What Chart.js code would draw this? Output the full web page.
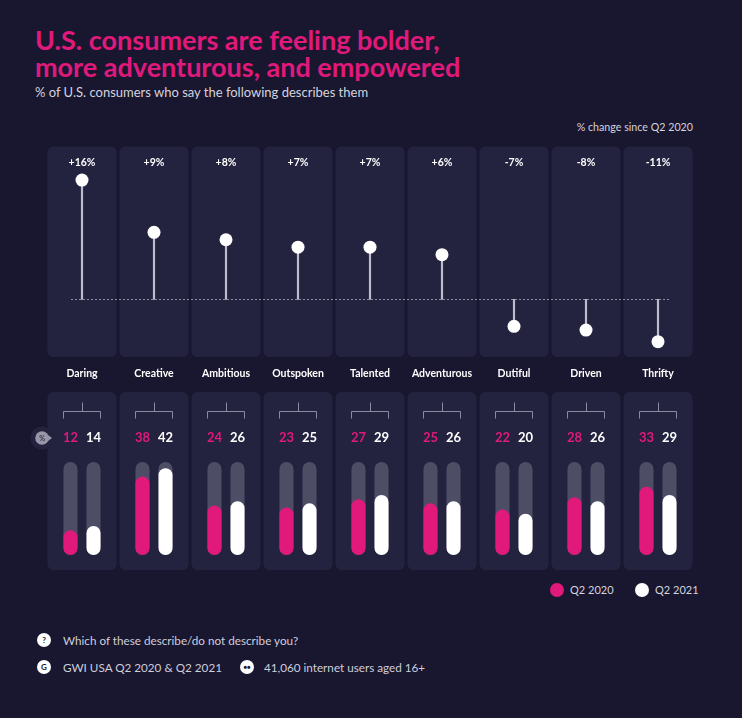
<!DOCTYPE html>
<html>
<head>
<meta charset="utf-8">
<script src="https://cdn.jsdelivr.net/npm/chart.js@4.4.0/dist/chart.umd.min.js"></script>
<style>
html, body { margin: 0; padding: 0; }
body {
    width: 742px; height: 718px; position: relative; overflow: hidden;
    background: #19162f; color: #fff;
    font-family: Lato, 'Noto Sans', sans-serif;
}
.abs { position: absolute; white-space: nowrap; }
#title { left: 35px; top: 26px; font-size: 27px; font-weight: 700; line-height: 27px; color: #e0197b; }
#subtitle { left: 35px; top: 85px; font-size: 13px; line-height: 14px; color: #d4d3de; }
#changeNote { right: 49px; top: 121px; font-size: 10.7px; line-height: 12px; color: #d4d3de; }
#topWrap { left: 0; top: 140px; width: 742px; height: 245px; }
#bottomWrap { left: 0; top: 385px; width: 742px; height: 195px; }
.dot { width: 14px; height: 14px; border-radius: 50%; }
.legendText { font-size: 11px; line-height: 14px; color: #d4d3de; }
.icon {
    width: 14px; height: 14px; border-radius: 50%; background: #fff; color: #19162f;
    font-size: 8px; font-weight: 700; line-height: 14px; text-align: center;
}
.foot { font-size: 11.7px; line-height: 14px; color: #cfcedb; }
</style>
</head>
<body>
<div id="title" class="abs">U.S. consumers are feeling bolder,<br>more adventurous, and empowered</div>
<div id="subtitle" class="abs">% of U.S. consumers who say the following describes them</div>
<div id="changeNote" class="abs">% change since Q2 2020</div>

<div id="topWrap" class="abs"><canvas id="lollipopChart"></canvas></div>
<div id="bottomWrap" class="abs"><canvas id="barChart"></canvas></div>

<div class="abs dot" style="left:550px; top:583px; background:#e0197b;"></div>
<div class="abs legendText" style="left:570px; top:583px;">Q2 2020</div>
<div class="abs dot" style="left:635px; top:583px; background:#fff;"></div>
<div class="abs legendText" style="left:655px; top:583px;">Q2 2021</div>

<div class="abs icon" style="left:37px; top:633px;">?</div>
<div class="abs foot" style="left:63px; top:633px;">Which of these describe/do not describe you?</div>
<div class="abs icon" style="left:37px; top:660px;">G</div>
<div class="abs foot" style="left:63px; top:660px;">GWI USA Q2 2020 &amp; Q2 2021</div>
<div class="abs icon" style="left:240px; top:660px; font-size:6px;">&#9679;&#9679;</div>
<div class="abs foot" style="left:264px; top:660px;">41,060 internet users aged 16+</div>

<script>
// Data
const categories = ['Daring', 'Creative', 'Ambitious', 'Outspoken', 'Talented', 'Adventurous', 'Dutiful', 'Driven', 'Thrifty'];
const changePct = [16, 9, 8, 7, 7, 6, -7, -8, -11];
const q2020 = [12, 38, 24, 23, 27, 25, 22, 28, 33];
const q2021 = [14, 42, 26, 25, 29, 26, 20, 26, 29];
const seriesNames = ['Q2 2020', 'Q2 2021'];
const trackMax = 45;

const PINK = '#e0197b';
const PANEL = '#24233f';
const TRACK = '#4e4d66';
const STEM = '#bdbccb';

Chart.defaults.font.family = "Lato, 'Noto Sans', sans-serif";
Chart.defaults.animation = false;

// the plot area above and below the zero line use their own scale
const upPx = 154, downPx = 58;
const posMax = 20.5, negMin = -15;

const posValues = changePct.map(v => v > 0 ? v : null);
const negValues = changePct.map(v => v < 0 ? v : null);

function fillRound(ctx, x, y, w, h, r, color) {
    ctx.beginPath();
    ctx.roundRect(x, y, w, h, r);
    ctx.fillStyle = color;
    ctx.fill();
}

const topPanels = {
    id: 'topPanels',
    beforeDatasetsDraw(chart) {
        const { ctx, chartArea, scales } = chart;
        ctx.save();
        categories.forEach((c, i) => {
            const cx = scales.x.getPixelForValue(i);
            fillRound(ctx, cx - 34.5, chartArea.top, 69, chartArea.bottom - chartArea.top, 6, PANEL);
        });
        const y0 = Math.round(scales.yPos.getPixelForValue(0)) + 0.5;
        ctx.strokeStyle = '#8d8ca2';
        ctx.lineWidth = 1;
        ctx.setLineDash([2, 2]);
        ctx.beginPath();
        ctx.moveTo(scales.x.getPixelForValue(0) - 11, y0);
        ctx.lineTo(scales.x.getPixelForValue(categories.length - 1) + 12, y0);
        ctx.stroke();
        ctx.restore();
    },
    afterDraw(chart) {
        const { ctx, chartArea, scales } = chart;
        ctx.save();
        ctx.textAlign = 'center';
        ctx.textBaseline = 'middle';
        ctx.fillStyle = '#ffffff';
        ctx.font = "bold 10.5px Lato, 'Noto Sans', sans-serif";
        categories.forEach((c, i) => {
            const cx = scales.x.getPixelForValue(i);
            const v = changePct[i];
            ctx.fillText((v > 0 ? '+' : '') + v + '%', cx, chartArea.top + 16);
            ctx.fillText(c, cx, chartArea.bottom + 17);
        });
        ctx.restore();
    }
};

const lollipopChart = new Chart(document.getElementById('lollipopChart'), {
    data: {
        labels: categories,
        datasets: [
            { type: 'line', data: posValues, yAxisID: 'yPos', showLine: false, pointRadius: 6.5, pointHoverRadius: 6.5, pointBackgroundColor: '#ffffff', pointBorderWidth: 0, order: 0 },
            { type: 'line', data: negValues, yAxisID: 'yNeg', showLine: false, pointRadius: 6.5, pointHoverRadius: 6.5, pointBackgroundColor: '#ffffff', pointBorderWidth: 0, order: 0 },
            { type: 'bar', data: posValues, yAxisID: 'yPos', grouped: false, barThickness: 1.5, backgroundColor: STEM, order: 1 },
            { type: 'bar', data: negValues, yAxisID: 'yNeg', grouped: false, barThickness: 1.5, backgroundColor: STEM, order: 1 }
        ]
    },
    options: {
        responsive: true,
        maintainAspectRatio: false,
        events: [],
        layout: { padding: { top: 5, bottom: 28, left: 46, right: 48 } },
        plugins: { legend: { display: false }, tooltip: { enabled: false } },
        scales: {
            x: { type: 'category', display: false, offset: true },
            yPos: { type: 'linear', display: false, min: -posMax * downPx / upPx, max: posMax },
            yNeg: { type: 'linear', display: false, min: negMin, max: -negMin * upPx / downPx }
        }
    },
    plugins: [topPanels]
});

const bottomPanels = {
    id: 'bottomPanels',
    beforeDatasetsDraw(chart) {
        const { ctx, chartArea, scales } = chart;
        ctx.save();
        categories.forEach((c, i) => {
            const cx = scales.x.getPixelForValue(i);
            fillRound(ctx, cx - 34.5, chartArea.top - 70, 69, chartArea.bottom - chartArea.top + 85, 6, PANEL);
        });
        ctx.restore();
    },
    afterDraw(chart) {
        const { ctx, chartArea } = chart;
        const m0 = chart.getDatasetMeta(0);
        const m1 = chart.getDatasetMeta(1);
        const labelY = chartArea.top - 24;
        ctx.save();
        ctx.strokeStyle = '#8a89a0';
        ctx.lineWidth = 1;
        ctx.textAlign = 'center';
        ctx.textBaseline = 'middle';
        ctx.font = "bold 13px Lato, 'Noto Sans', sans-serif";
        categories.forEach((c, i) => {
            const xa = m0.data[i].x, xb = m1.data[i].x;
            const left = Math.round(xa - 7) + 0.5, right = Math.round(xb + 7) - 0.5;
            const mid = Math.round((xa + xb) / 2) + 0.5;
            const hy = chartArea.top - 51 + 0.5;
            ctx.beginPath();
            ctx.moveTo(left, hy + 7);
            ctx.lineTo(left, hy);
            ctx.lineTo(right, hy);
            ctx.lineTo(right, hy + 7);
            ctx.moveTo(mid, hy);
            ctx.lineTo(mid, hy - 9);
            ctx.stroke();
            ctx.fillStyle = PINK;
            ctx.fillText(String(q2020[i]), xa, labelY);
            ctx.fillStyle = '#ffffff';
            ctx.fillText(String(q2021[i]), xb, labelY);
        });
        // "%" badge left of the first panel
        ctx.fillStyle = '#24223d';
        ctx.beginPath();
        ctx.arc(42, labelY, 11.5, 0, Math.PI * 2);
        ctx.fill();
        ctx.fillStyle = '#9897a9';
        ctx.beginPath();
        ctx.arc(42, labelY, 6.8, 0, Math.PI * 2);
        ctx.fill();
        ctx.beginPath();
        ctx.moveTo(48, labelY - 3);
        ctx.lineTo(52, labelY);
        ctx.lineTo(48, labelY + 3);
        ctx.fill();
        ctx.fillStyle = '#34334b';
        ctx.font = "bold 7px Lato, 'Noto Sans', sans-serif";
        ctx.fillText('%', 42, labelY + 0.5);
        ctx.restore();
    }
};

// each value bar shares its slot (stack id) with a grey track; values are not summed
const barStyle = { borderRadius: 7, borderSkipped: false, categoryPercentage: 0.64, barPercentage: 0.61 };
const barChart = new Chart(document.getElementById('barChart'), {
    type: 'bar',
    data: {
        labels: categories,
        datasets: [
            { label: seriesNames[0], data: q2020, backgroundColor: PINK, stack: 'a', order: 0, ...barStyle },
            { label: seriesNames[1], data: q2021, backgroundColor: '#ffffff', stack: 'b', order: 0, ...barStyle },
            { label: 'track', data: categories.map(() => trackMax), backgroundColor: TRACK, stack: 'a', order: 1, ...barStyle },
            { label: 'track', data: categories.map(() => trackMax), backgroundColor: TRACK, stack: 'b', order: 1, ...barStyle }
        ]
    },
    options: {
        responsive: true,
        maintainAspectRatio: false,
        events: [],
        layout: { padding: { top: 77, bottom: 25, left: 46, right: 48 } },
        plugins: { legend: { display: false }, tooltip: { enabled: false } },
        scales: {
            x: { type: 'category', display: false, offset: true },
            y: { display: false, min: 0, max: trackMax, stacked: false }
        }
    },
    plugins: [bottomPanels]
});
</script>
</body>
</html>
